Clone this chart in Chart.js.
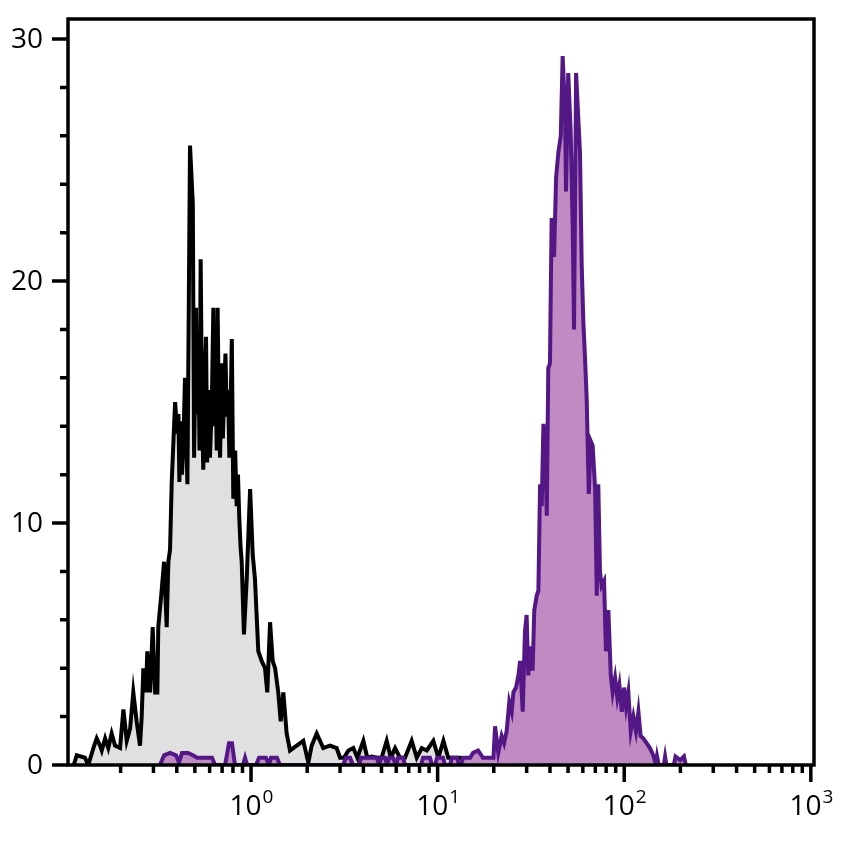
<!DOCTYPE html>
<html>
<head>
<meta charset="utf-8">
<script src="https://cdn.jsdelivr.net/npm/chart.js@4/dist/chart.umd.min.js"></script>
<style>
  html, body { margin: 0; padding: 0; background: #fff; }
  #wrap { width: 844px; height: 848px; }
</style>
</head>
<body>
<div id="wrap"><canvas id="histo"></canvas></div>
<script>
// control (grey) histogram: channel as log10 of intensity, and counts
const greyLog = [
  -0.950, -0.934, -0.890, -0.872, -0.845, -0.827, -0.809, -0.800, -0.782, -0.765,
  -0.747, -0.729, -0.702, -0.684, -0.666, -0.648, -0.631, -0.613, -0.595, -0.586,
  -0.577, -0.563, -0.556, -0.541, -0.527, -0.514, -0.502, -0.497, -0.479, -0.466,
  -0.452, -0.443, -0.434, -0.425, -0.407, -0.395, -0.389, -0.384, -0.377, -0.370,
  -0.363, -0.354, -0.341, -0.327, -0.312, -0.305, -0.295, -0.290, -0.282, -0.276,
  -0.270, -0.263, -0.256, -0.248, -0.241, -0.235, -0.229, -0.220, -0.210, -0.202,
  -0.195, -0.189, -0.184, -0.179, -0.172, -0.166, -0.157, -0.151, -0.145, -0.137,
  -0.130, -0.123, -0.116, -0.109, -0.103, -0.095, -0.085, -0.077, -0.070, -0.063,
  -0.056, -0.050, -0.038, -0.023, -0.005, 0.009, 0.021, 0.039, 0.057, 0.075,
  0.087, 0.102, 0.116, 0.129, 0.146, 0.159, 0.173, 0.191, 0.209, 0.245,
  0.280, 0.307, 0.325, 0.352, 0.387, 0.423, 0.459, 0.477, 0.498, 0.522,
  0.548, 0.570, 0.602, 0.623, 0.647, 0.674, 0.700, 0.727, 0.749, 0.772,
  0.798, 0.825, 0.861, 0.888, 0.915, 0.942, 0.977, 1.004, 1.031, 1.057,
  1.084, 1.120, 1.156, 1.183
];
const greyCount = [
  0, 0.4, 0.3, 0, 0.7, 1.1, 0.8, 0.6, 1.1, 0.7,
  1.3, 0.8, 0.7, 2.3, 1.0, 1.5, 3.0, 1.8, 0.8, 2.0,
  4.0, 3.0, 4.7, 3.0, 5.7, 3.0, 3.0, 5.7, 7.2, 8.4,
  5.7, 8.4, 8.9, 11.7, 15.0, 13.7, 14.5, 11.7, 14.2, 12.0,
  13.2, 16.0, 11.6, 25.6, 23.2, 12.7, 18.9, 14.5, 16.7, 13.0,
  20.9, 15.0, 12.2, 16.0, 17.7, 12.5, 15.5, 12.7, 15.0, 18.9,
  14.0, 16.5, 13.0, 18.9, 14.0, 12.7, 16.6, 13.5, 15.2, 17.0,
  14.4, 15.5, 12.7, 15.0, 17.6, 11.0, 13.0, 10.7, 12.0, 10.2,
  9.0, 8.4, 5.4, 7.7, 11.4, 8.7, 7.7, 4.7, 4.3, 4.0,
  3.0, 5.9, 4.3, 4.0, 3.0, 1.8, 3.0, 1.3, 0.6, 0.8,
  1.0, 0.1, 0.8, 1.3, 0.7, 0.8, 0.7, 0.3, 0.3, 0.6,
  0.7, 0.3, 1.0, 0.3, 0.35, 0.3, 0.3, 1.0, 0.3, 0.7,
  0.3, 0.3, 1.0, 0.3, 0.7, 0.6, 1.0, 0.3, 1.0, 0.3,
  0.3, 0.3, 0.2, 0
];

// stained (purple) histogram
const purpleLog = [
  -0.488, -0.466, -0.434, -0.402, -0.386, -0.370, -0.338, -0.311, -0.289, -0.247,
  -0.209, -0.193, -0.139, -0.118, -0.102, -0.086, -0.043, -0.032, -0.021, 0.027,
  0.043, 0.080, 0.096, 0.107, 0.139, 0.155, 0.493, 0.509, 0.531, 0.547,
  0.579, 0.590, 0.675, 0.686, 0.697, 0.718, 0.729, 0.740, 0.761, 0.777,
  0.788, 0.815, 0.825, 0.911, 0.922, 0.959, 0.970, 0.986, 0.997, 1.029,
  1.040, 1.066, 1.077, 1.104, 1.115, 1.125, 1.136, 1.174, 1.190, 1.217,
  1.243, 1.263, 1.299, 1.308, 1.325, 1.343, 1.356, 1.370, 1.384, 1.397,
  1.406, 1.420, 1.433, 1.442, 1.456, 1.468, 1.477, 1.486, 1.495, 1.509,
  1.518, 1.531, 1.540, 1.549, 1.558, 1.567, 1.576, 1.585, 1.593, 1.602,
  1.611, 1.624, 1.635, 1.647, 1.660, 1.670, 1.683, 1.688, 1.700, 1.713,
  1.724, 1.731, 1.742, 1.752, 1.763, 1.772, 1.781, 1.790, 1.799, 1.810,
  1.820, 1.831, 1.844, 1.853, 1.861, 1.870, 1.879, 1.892, 1.902, 1.915,
  1.928, 1.938, 1.951, 1.963, 1.974, 1.987, 1.999, 2.010, 2.022, 2.035,
  2.049, 2.063, 2.076, 2.088, 2.102, 2.120, 2.138, 2.156, 2.170, 2.176,
  2.185, 2.212, 2.219, 2.226, 2.266, 2.275, 2.300, 2.320, 2.330
];
const purpleCount = [
  0, 0.4, 0.5, 0.4, 0.1, 0.5, 0.5, 0.4, 0.3, 0.3,
  0.3, 0, 0, 0.9, 0.9, 0, 0, 0.3, 0, 0,
  0.3, 0.3, 0, 0.3, 0.3, 0, 0, 0.3, 0.3, 0,
  0, 0.3, 0.3, 0, 0.3, 0.3, 0, 0.3, 0.3, 0,
  0.3, 0.3, 0, 0, 0.3, 0.3, 0, 0, 0.3, 0.3,
  0, 0, 0.3, 0.3, 0, 0, 0.3, 0.3, 0.5, 0.6,
  0.3, 0.3, 0.3, 1.6, 0.5, 1.2, 0.9, 1.4, 2.6, 2.2,
  3.0, 3.2, 3.7, 4.3, 2.2, 5.5, 6.2, 3.7, 4.9, 3.9,
  6.4, 7.0, 7.2, 11.6, 10.7, 14.1, 13.2, 10.3, 16.4, 16.6,
  22.6, 21.0, 24.3, 25.3, 26.0, 29.3, 27.0, 23.7, 28.6, 26.2,
  22.2, 18.0, 28.6, 27.0, 25.3, 20.7, 18.3, 16.8, 15.1, 11.2,
  13.4, 13.2, 11.4, 7.0, 11.6, 8.0, 7.4, 7.6, 4.7, 6.4,
  3.7, 3.0, 3.6, 2.8, 3.3, 2.2, 3.2, 2.4, 3.0, 1.4,
  2.0, 1.4, 2.2, 1.2, 1.1, 0.9, 0.7, 0.4, 0, 0.35,
  0, 0, 0.35, 0, 0, 0.35, 0.2, 0.35, 0
];

// axis ticks
const xMajor = [1, 10, 100, 1000];
const xMajorExp = ['0', '1', '2', '3'];
const xMinor = [0.2, 0.3, 0.4, 0.5, 0.6, 0.7, 0.8, 0.9,
                2, 3, 4, 5, 6, 7, 8, 9,
                20, 30, 40, 50, 60, 70, 80, 90,
                200, 300, 400, 500, 600, 700, 800, 900];
const yMajor = [0, 10, 20, 30];
const yMinor = [2, 4, 6, 8, 12, 14, 16, 18, 22, 24, 26, 28];

function toPoints(logs, counts) {
    return logs.map((e, i) => ({ x: Math.pow(10, e), y: counts[i] }));
}

// axes, box, ticks and labels drawn by hand (different tick lengths, superscripts)
const axesPlugin = {
    id: 'flowAxes',
    afterDraw(chart) {
        const ctx = chart.ctx;
        const a = chart.chartArea;
        const xs = chart.scales.x;
        const ys = chart.scales.y;
        ctx.save();
        ctx.strokeStyle = '#000';
        ctx.lineWidth = 3.5;
        ctx.strokeRect(a.left, a.top, a.right - a.left, a.bottom - a.top);

        ctx.beginPath();
        yMajor.forEach(v => {
            const y = ys.getPixelForValue(v);
            ctx.moveTo(a.left - 16, y);
            ctx.lineTo(a.left, y);
        });
        yMinor.forEach(v => {
            const y = ys.getPixelForValue(v);
            ctx.moveTo(a.left - 8, y);
            ctx.lineTo(a.left, y);
        });
        xMajor.forEach(v => {
            const x = xs.getPixelForValue(v);
            ctx.moveTo(x, a.bottom);
            ctx.lineTo(x, a.bottom + 17);
        });
        xMinor.forEach(v => {
            const x = xs.getPixelForValue(v);
            ctx.moveTo(x, a.bottom);
            ctx.lineTo(x, a.bottom + 8);
        });
        ctx.stroke();

        ctx.fillStyle = '#000';
        ctx.font = '28px "Open Sans"';
        ctx.textAlign = 'right';
        ctx.textBaseline = 'middle';
        yMajor.forEach(v => {
            ctx.fillText(String(v), a.left - 25, ys.getPixelForValue(v) + 1);
        });

        ctx.textAlign = 'left';
        ctx.textBaseline = 'alphabetic';
        xMajor.forEach((v, i) => {
            const x = xs.getPixelForValue(v);
            ctx.font = '28px "Open Sans"';
            const wBase = ctx.measureText('10').width;
            ctx.font = '19px "Open Sans"';
            const wSup = ctx.measureText(xMajorExp[i]).width;
            const start = x - (wBase + wSup) / 2;
            ctx.font = '28px "Open Sans"';
            ctx.fillText('10', start, a.bottom + 50);
            ctx.font = '19px "Open Sans"';
            ctx.fillText(xMajorExp[i], start + wBase + 1, a.bottom + 38);
        });
        ctx.restore();
    }
};

new Chart(document.getElementById('histo'), {
    type: 'line',
    data: {
        datasets: [
            {
                label: 'stained',
                data: toPoints(purpleLog, purpleCount),
                borderColor: '#541786',
                backgroundColor: '#c08ac2',
                borderWidth: 4,
                fill: 'origin',
                pointRadius: 0,
                tension: 0
            },
            {
                label: 'control',
                data: toPoints(greyLog, greyCount),
                borderColor: '#000000',
                backgroundColor: '#e0e0e0',
                borderWidth: 4,
                fill: 'origin',
                pointRadius: 0,
                tension: 0
            }
        ]
    },
    options: {
        responsive: true,
        maintainAspectRatio: false,
        animation: false,
        devicePixelRatio: 1,
        layout: { padding: { left: 68, right: 30, top: 19, bottom: 83 } },
        plugins: { legend: { display: false }, tooltip: { enabled: false } },
        scales: {
            x: { type: 'logarithmic', min: 0.1045, max: 1040, display: false },
            y: { type: 'linear', min: 0, max: 30.83, display: false }
        }
    },
    plugins: [axesPlugin]
});
</script>
</body>
</html>
